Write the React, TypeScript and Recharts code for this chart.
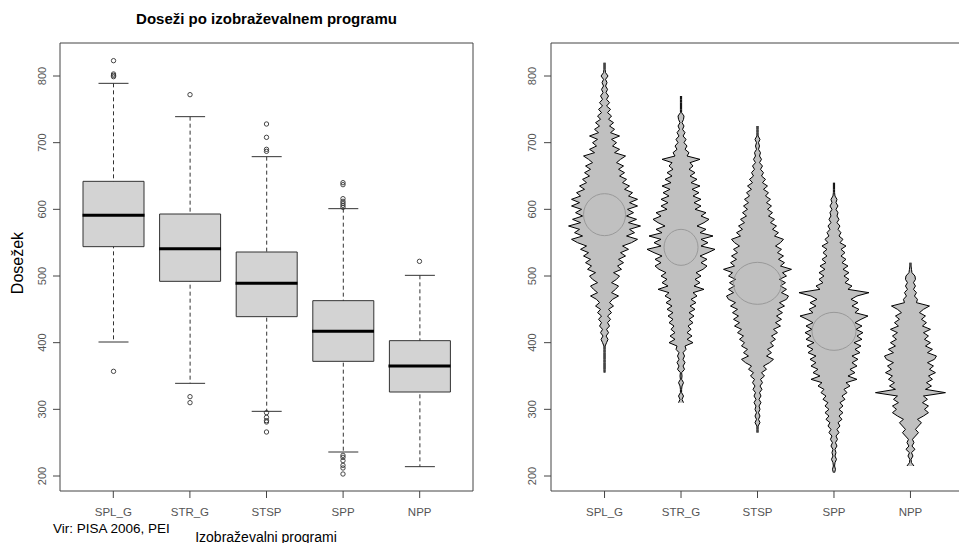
import React from "react";
import {
  ComposedChart,
  Bar,
  Scatter,
  Area,
  XAxis,
  YAxis,
  ReferenceArea,
} from "recharts";

const FONT = '"Liberation Sans", Arial, Helvetica, sans-serif';

const programs = ["SPL_G", "STR_G", "STSP", "SPP", "NPP"];

// boxplot stats
const q1 = [544, 492, 439, 372, 326];
const medians = [591, 541, 489, 417, 365];
const q3 = [642, 593, 536, 463, 403];
const whiskerLow = [401, 339, 297, 236, 214];
const whiskerHigh = [789, 739, 679, 601, 501];
const outliers = [
  [823, 803, 801, 799, 357],
  [772, 319, 310],
  [728, 708, 690, 687, 295, 288, 283, 281, 266],
  [640, 637, 616, 612, 609, 606, 603, 231, 228, 223, 216, 212, 203],
  [522],
];

// bean half-widths (px at full scale), one value every 5 points from beanStart
const beanStart = [355, 310, 265, 205, 215];
const splgBean = [
  0.5, 0.6, 0.6, 0.6, 0.6, 0.6, 0.6, 0.6, 0.6,
  2, 3.5, 1.5, 4, 2, 5, 3, 6, 3, 7, 4, 9, 5, 8, 14, 7, 11, 14, 7, 12,
  15, 9, 17, 13, 19, 14, 21, 16, 24, 18, 27, 33, 22, 30, 25, 36, 24, 32, 22,
  29, 23, 33, 25, 33, 24, 28, 20, 25, 18, 22, 15, 20, 14, 19, 12, 16, 21, 10,
  15, 8, 12, 7, 15, 6, 10, 5, 9, 4, 7, 3, 6, 2, 5, 2, 4, 1.5, 3, 1, 2.5, 1,
  3.5, 1, 0.6, 0.6, 0.6,
];
const strgBean = [
  2.5, 1, 2.5, 0.6, 0.6, 1, 2.5, 0.6, 1, 0.6, 3.5, 2, 4, 2, 3.5, 2, 5, 4, 12, 6,
  11, 6, 10, 7, 12, 8, 13, 8, 14, 9, 15, 10, 16, 12, 23, 13, 19, 14, 20, 15, 22,
  26, 20, 26, 19, 27, 34, 20, 27, 20, 32, 19, 25, 16, 23, 28, 20, 25, 14, 20,
  13, 20, 12, 18, 11, 19, 10, 16, 9, 14, 8, 12, 9, 19, 6, 8, 4, 6, 3, 5, 2, 4,
  1.5, 3, 1, 2.5, 3, 0.6, 0.6, 0.6, 0.6, 0.6, 0.6,
];
const stspBean = [
  0.6, 0.6, 0.6, 2.5, 1, 2.5, 1, 2.5, 1.5, 3.5, 1.5, 3.5, 2, 4.5, 2.5, 5, 3, 7,
  4, 9, 6, 12, 16, 9, 14, 10, 16, 13, 18, 14, 20, 16, 23, 18, 24, 19, 25, 20,
  27, 22, 29, 31, 24, 29, 23, 28, 22, 29, 25, 34, 23, 27, 21, 26, 20, 24, 18,
  23, 26, 17, 21, 15, 19, 13, 17, 11, 15, 10, 14, 9, 13, 8, 11, 6, 10, 5, 8, 4,
  6, 3, 5, 2, 4, 2, 3, 1, 2, 1, 2.5, 0.6, 0.6, 0.6, 0.6,
];
const sppBean = [
  0.6, 1.5, 0.6, 1, 2.5, 1, 2, 1, 3, 1.5, 3.5, 2, 5, 3, 6, 4, 8, 5, 9, 5, 9, 6,
  11, 8, 13, 10, 16, 12, 23, 14, 21, 16, 23, 18, 24, 18, 26, 21, 27, 20, 28, 23,
  29, 22, 28, 21, 27, 34, 21, 25, 18, 24, 17, 23, 35, 14, 18, 11, 15, 10, 15,
  9, 14, 8, 12, 7, 11, 7, 12, 6, 9, 5, 7, 4, 6, 3, 5, 3, 4, 2, 4, 2, 3, 1, 0.6,
  0.6, 0.6, 0.6,
];
const nppBean = [
  3.5, 1, 0.6, 2.5, 1, 4.5, 1.5, 3.5, 2, 5, 8, 5, 8, 11, 7, 13, 18, 14, 18, 12,
  17, 13, 35, 15, 21, 16, 22, 18, 25, 19, 23, 17, 24, 26, 17, 22, 15, 20, 14,
  18, 13, 20, 12, 16, 11, 15, 9, 13, 19, 6, 7, 4, 6, 3, 5, 3, 5, 4.5, 1.5, 1,
  0.6, 0.6,
];
const beans = [splgBean, strgBean, stspBean, sppBean, nppBean];

// grey lens drawn round the middle of each bean
const lensCenter = [592, 543, 489, 417];
const lensRx = [21, 17, 24, 22];
const lensRy = [21, 18, 21, 19];

const Y_DOMAIN: [number, number] = [177.5, 849.5];
const Y_TICKS = [200, 300, 400, 500, 600, 700, 800];
const X_DOMAIN: [number, number] = [0.3, 5.7];
const BEAN_PX = 76.5;

const boxRows = programs.map((name, i) => ({
  name,
  box: [q1[i], q3[i]],
  whisker: [whiskerLow[i], whiskerHigh[i]],
}));
const medianPts = programs.map((_, i) => ({ x: i + 1, y: medians[i] }));
const outlierPts = outliers.flatMap((vals, i) =>
  vals.map((v) => ({ x: i + 1, y: v }))
);

const beanRows: Record<string, any>[] = [];
for (let s = 200; s <= 825; s += 5) {
  const row: Record<string, any> = { score: s };
  beans.forEach((w, i) => {
    const k = (s - beanStart[i]) / 5;
    row[programs[i]] =
      k >= 0 && k < w.length
        ? [i + 1 - w[k] / BEAN_PX, i + 1 + w[k] / BEAN_PX]
        : [null, null];
  });
  beanRows.push(row);
}
const lensPts = lensCenter.map((c, i) => ({ x: i + 1, score: c, i }));

const YTick = (p: any) => (
  <text
    x={p.x}
    y={p.y}
    transform={`rotate(-90 ${p.x} ${p.y})`}
    textAnchor="middle"
    fontSize={11}
    fill="#555"
    fontFamily={FONT}
  >
    {p.payload.value}
  </text>
);

const XTick = (p: any) => {
  const v = p.payload.value;
  const label = typeof v === "number" ? programs[v - 1] : v;
  return (
    <text
      x={p.x}
      y={p.y}
      dy="0.71em"
      textAnchor="middle"
      fontSize={11.5}
      fill="#555"
      fontFamily={FONT}
    >
      {label}
    </text>
  );
};

const WhiskerShape = (p: any) => {
  const cx = p.x + p.width / 2;
  const top = Math.min(p.y, p.y + p.height);
  const bottom = Math.max(p.y, p.y + p.height);
  return (
    <g stroke="#333" strokeWidth={1}>
      <line x1={cx} x2={cx} y1={top} y2={bottom} strokeDasharray="4 3" />
      <line x1={cx - 15} x2={cx + 15} y1={top} y2={top} />
      <line x1={cx - 15} x2={cx + 15} y1={bottom} y2={bottom} />
    </g>
  );
};

const MedianShape = (p: any) => (
  <line
    x1={p.cx - 31}
    x2={p.cx + 31}
    y1={p.cy}
    y2={p.cy}
    stroke="#000"
    strokeWidth={3}
  />
);

const OutlierShape = (p: any) => (
  <circle
    cx={p.cx}
    cy={p.cy}
    r={2.2}
    fill="none"
    stroke="#333"
    strokeWidth={0.9}
  />
);

const LensShape = (p: any) => {
  const i = p.payload.i;
  return (
    <ellipse
      cx={p.cx}
      cy={p.cy}
      rx={lensRx[i]}
      ry={lensRy[i]}
      fill="none"
      stroke="#999"
      strokeWidth={1}
    />
  );
};

export default function App() {
  return (
    <div
      style={{
        position: "absolute",
        left: 0,
        top: 0,
        width: 959,
        height: 543,
        overflow: "hidden",
        background: "#fff",
      }}
    >
      <div style={{ position: "absolute", left: 0, top: 0 }}>
        <ComposedChart
          width={480}
          height={543}
          data={boxRows}
          margin={{ top: 43, right: 7, bottom: 0, left: 0 }}
        >
          <XAxis
            xAxisId="cat"
            dataKey="name"
            type="category"
            padding={{ left: 15, right: 15 }}
            height={52}
            tickSize={7}
            tickMargin={10}
            interval={0}
            axisLine={false}
            tickLine={{ stroke: "#444" }}
            tick={XTick}
          />
          <XAxis
            xAxisId="cat2"
            dataKey="name"
            type="category"
            padding={{ left: 15, right: 15 }}
            hide
          />
          <XAxis
            xAxisId="num"
            dataKey="x"
            type="number"
            domain={X_DOMAIN}
            allowDataOverflow
            hide
          />
          <YAxis
            type="number"
            domain={Y_DOMAIN}
            ticks={Y_TICKS}
            allowDataOverflow
            width={60}
            tickSize={7}
            tickMargin={7}
            axisLine={false}
            tickLine={{ stroke: "#444" }}
            tick={YTick}
          />
          <ReferenceArea
            xAxisId="num"
            x1={X_DOMAIN[0]}
            x2={X_DOMAIN[1]}
            y1={Y_DOMAIN[0]}
            y2={Y_DOMAIN[1]}
            fill="none"
            stroke="#444"
            ifOverflow="visible"
          />
          <Bar
            xAxisId="cat2"
            dataKey="whisker"
            barSize={61}
            shape={WhiskerShape}
            isAnimationActive={false}
          />
          <Bar
            xAxisId="cat"
            dataKey="box"
            barSize={61}
            fill="#d3d3d3"
            stroke="#333"
            strokeWidth={1}
            isAnimationActive={false}
          />
          <Scatter
            xAxisId="num"
            data={medianPts}
            dataKey="y"
            shape={MedianShape}
            isAnimationActive={false}
          />
          <Scatter
            xAxisId="num"
            data={outlierPts}
            dataKey="y"
            shape={OutlierShape}
            isAnimationActive={false}
          />
        </ComposedChart>
      </div>

      <div style={{ position: "absolute", left: 480, top: 0 }}>
        <ComposedChart
          layout="vertical"
          width={484}
          height={543}
          data={beanRows}
          margin={{ top: 43, right: 0, bottom: 0, left: 0 }}
        >
          <XAxis
            type="number"
            dataKey="x"
            domain={X_DOMAIN}
            ticks={[1, 2, 3, 4, 5]}
            allowDataOverflow
            height={52}
            tickSize={7}
            tickMargin={10}
            axisLine={false}
            tickLine={{ stroke: "#444" }}
            tick={XTick}
          />
          <YAxis
            type="number"
            dataKey="score"
            domain={Y_DOMAIN}
            ticks={Y_TICKS}
            reversed
            allowDataOverflow
            width={71}
            tickSize={7}
            tickMargin={8}
            axisLine={false}
            tickLine={{ stroke: "#444" }}
            tick={YTick}
          />
          <ReferenceArea
            x1={X_DOMAIN[0]}
            x2={X_DOMAIN[1]}
            y1={Y_DOMAIN[0]}
            y2={Y_DOMAIN[1]}
            fill="none"
            stroke="#444"
            ifOverflow="visible"
          />
          {programs.map((p) => (
            <Area
              key={p}
              dataKey={p}
              type="linear"
              fill="#c0c0c0"
              fillOpacity={1}
              stroke="#000"
              strokeWidth={1}
              dot={false}
              activeDot={false}
              isAnimationActive={false}
            />
          ))}
          <Scatter
            data={lensPts}
            dataKey="score"
            shape={LensShape}
            isAnimationActive={false}
          />
        </ComposedChart>
      </div>

      <svg
        width={959}
        height={543}
        style={{ position: "absolute", left: 0, top: 0, pointerEvents: "none" }}
        fontFamily={FONT}
      >
        <text x={266.5} y={24} textAnchor="middle" fontSize={15} fontWeight="bold" fill="#000">
          Doseži po izobraževalnem programu
        </text>
        <text
          x={23}
          y={263}
          transform="rotate(-90 23 263)"
          textAnchor="middle"
          fontSize={16}
          fill="#000"
        >
          Dosežek
        </text>
        <text x={53} y={533} fontSize={13.5} fill="#000">
          Vir: PISA 2006, PEI
        </text>
        <text x={266} y={541.5} textAnchor="middle" fontSize={14} fill="#000">
          Izobraževalni programi
        </text>
      </svg>
    </div>
  );
}
